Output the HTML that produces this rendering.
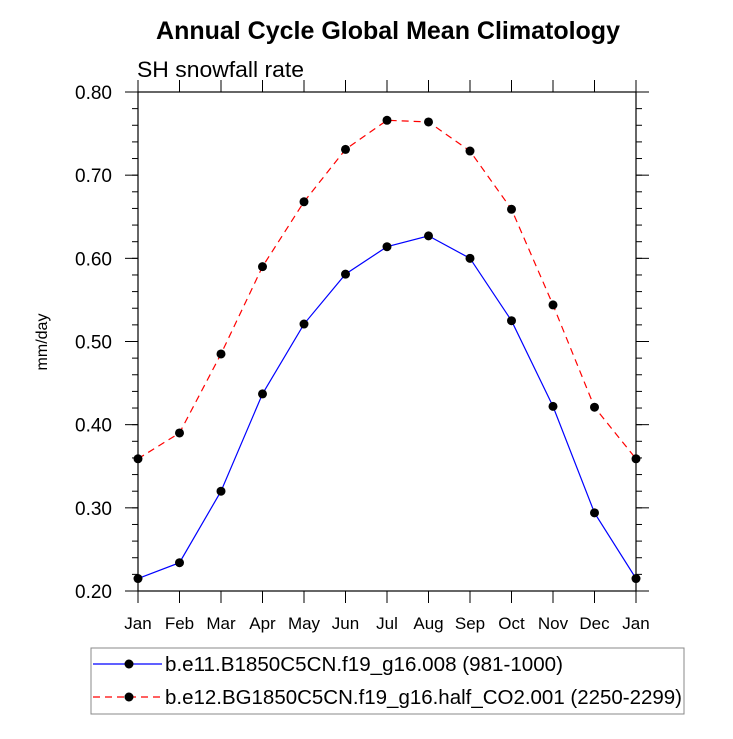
<!DOCTYPE html>
<html><head><meta charset="utf-8"><style>
body{margin:0;background:#fff}
svg text{font-family:"Liberation Sans",Arial,sans-serif}
</style></head><body>
<svg id="chart" width="733" height="734" xmlns="http://www.w3.org/2000/svg">
<rect width="733" height="734" fill="#fff"/>
<text x="388" y="39" text-anchor="middle" font-size="25" font-weight="bold">Annual Cycle Global Mean Climatology</text>
<text x="137" y="77" font-size="22" textLength="167" lengthAdjust="spacingAndGlyphs">SH snowfall rate</text>
<text transform="translate(47,342) rotate(-90)" text-anchor="middle" font-size="16">mm/day</text>
<g id="axes"></g>
<g id="series"></g>
<g>
<rect x="91" y="648" width="593" height="66" fill="#fff" stroke="#888" stroke-width="1"/>
<g>
<line x1="93" y1="664" x2="162" y2="664" stroke="#0000ff" stroke-width="1.2"/>
<circle cx="129" cy="664" r="4.5" fill="#000"/>
<text x="165" y="671" font-size="20" textLength="398" lengthAdjust="spacingAndGlyphs">b.e11.B1850C5CN.f19_g16.008 (981-1000)</text>
</g>
<g>
<line x1="93" y1="697" x2="162" y2="697" stroke="#ff0000" stroke-width="1.2" stroke-dasharray="7,5"/>
<circle cx="129" cy="697" r="4.5" fill="#000"/>
<text x="165" y="704" font-size="20" textLength="517" lengthAdjust="spacingAndGlyphs">b.e12.BG1850C5CN.f19_g16.half_CO2.001 (2250-2299)</text>
</g>
</g>
</svg>
<script>
const months=["Jan","Feb","Mar","Apr","May","Jun","Jul","Aug","Sep","Oct","Nov","Dec","Jan"];
const controlValues=[0.215,0.234,0.320,0.437,0.521,0.581,0.614,0.627,0.600,0.525,0.422,0.294,0.215];
const halfCO2Values=[0.359,0.390,0.485,0.590,0.668,0.731,0.766,0.764,0.729,0.659,0.544,0.421,0.359];
const yTicks=[0.20,0.30,0.40,0.50,0.60,0.70,0.80];
const NS="http://www.w3.org/2000/svg";
const L=138,R=636,T=92,B=591,ymin=0.2,ymax=0.8;
const xs=i=>L+(R-L)*i/(months.length-1);
const ys=v=>B-(v-ymin)/(ymax-ymin)*(B-T);
function mk(tag,attrs,parent){const e=document.createElementNS(NS,tag);for(const k in attrs)e.setAttribute(k,attrs[k]);parent.appendChild(e);return e;}
const ax=document.getElementById('axes');
const frame=mk('rect',{x:L,y:T,width:R-L,height:B-T,fill:'none',stroke:'#000','stroke-width':1.2},ax);


months.forEach((m,i)=>{
 const x=xs(i);
 mk('line',{x1:x,y1:B,x2:x,y2:B+12,stroke:'#000','stroke-width':1},ax);
 mk('line',{x1:x,y1:T,x2:x,y2:T-12,stroke:'#000','stroke-width':1},ax);
 const t=mk('text',{x:x,y:629,'text-anchor':'middle','font-size':17},ax);
 t.textContent=m;
 
 
});
for(let v=ymin;v<=ymax+1e-9;v+=0.02){
 const y=ys(v);
 mk('line',{x1:L,y1:y,x2:L-6,y2:y,stroke:'#000','stroke-width':1},ax);
 mk('line',{x1:R,y1:y,x2:R+6,y2:y,stroke:'#000','stroke-width':1},ax);
}
yTicks.forEach(v=>{
 const y=ys(v);
 mk('line',{x1:L,y1:y,x2:L-13,y2:y,stroke:'#000','stroke-width':1},ax);
 mk('line',{x1:R,y1:y,x2:R+13,y2:y,stroke:'#000','stroke-width':1},ax);
 const t=mk('text',{x:112,y:y+7,'text-anchor':'end','font-size':19},ax);
 t.textContent=v.toFixed(2);
 
 
});
const sg=document.getElementById('series');
function series(vals,color,dash,name){
 const g=mk('g',{},sg);
 
 
 const p=mk('polyline',{points:vals.map((v,i)=>xs(i)+','+ys(v)).join(' '),fill:'none',stroke:color,'stroke-width':1.2},g);
 if(dash)p.setAttribute('stroke-dasharray',dash);
 vals.forEach((v,i)=>{
  const c=mk('circle',{cx:xs(i),cy:ys(v),r:4.5,fill:'#000'},g);
  
  
 });
}
series(controlValues,'#0000ff',null,'control-series');
series(halfCO2Values,'#ff0000','7,5','half-co2-series');
</script>
</body></html>
